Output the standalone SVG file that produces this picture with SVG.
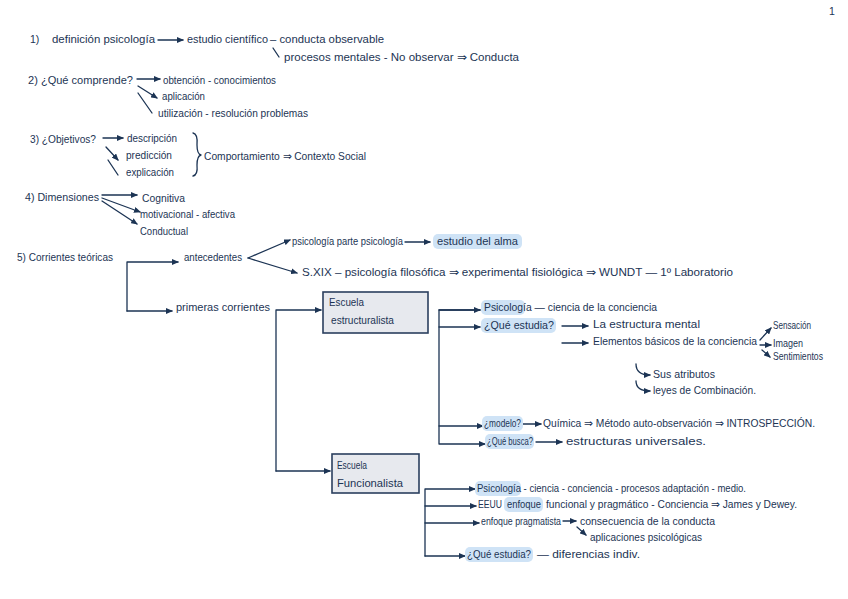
<svg xmlns="http://www.w3.org/2000/svg" width="848" height="599" viewBox="0 0 848 599">
<defs>
<style>
.t{font-family:"Liberation Sans",Arial,sans-serif;font-size:10.5px;fill:#1c3454}
.ln{stroke:#1c3454;stroke-width:1.3;fill:none;stroke-linecap:round;stroke-linejoin:round}
.hl{fill:#cfe3f6}
.box{fill:#e7e9ee;stroke:#2b3f5e;stroke-width:1.6}
</style>
<marker id="ah" markerWidth="7" markerHeight="6" refX="6" refY="3" orient="auto" markerUnits="userSpaceOnUse"><path d="M0,0 L7,3 L0,6 Z" fill="#1c3454"/></marker>
</defs>
<rect width="848" height="599" fill="#ffffff"/>
<text class="t" x="829" y="15">1</text>

<g id="connectors">
<path class="ln" d="M158,40 H183" marker-end="url(#ah)"/>
<path class="ln" d="M273,48 L279,57"/>
<path class="ln" d="M137,79 H160" marker-end="url(#ah)"/>
<path class="ln" d="M138,86 L157,98" marker-end="url(#ah)"/>
<path class="ln" d="M138,93 L152,113"/>
<path class="ln" d="M103,138 H123" marker-end="url(#ah)"/>
<path class="ln" d="M106,147 L118,160" marker-end="url(#ah)"/>
<path class="ln" d="M108,160 L118,175"/>
<path class="ln" d="M193,133 Q198,134 197,145 Q197,154 201,155 Q197,156 197,165 Q198,175 193,176"/>
<path class="ln" d="M102,195 H137" marker-end="url(#ah)"/>
<path class="ln" d="M102,198 L140,212" marker-end="url(#ah)"/>
<path class="ln" d="M102,201 L137,224" marker-end="url(#ah)"/>
<path class="ln" d="M127,311 V262 H178" marker-end="url(#ah)"/>
<path class="ln" d="M127,311 H172" marker-end="url(#ah)"/>
<path class="ln" d="M248,258 L290,240" marker-end="url(#ah)"/>
<path class="ln" d="M248,258 L297,273" marker-end="url(#ah)"/>
<path class="ln" d="M405,242 H430" marker-end="url(#ah)"/>
<path class="ln" d="M276,471 V310 H321" marker-end="url(#ah)"/>
<path class="ln" d="M276,471 H330" marker-end="url(#ah)"/>
<path class="ln" d="M480,310 H439 V444 H485" marker-end="url(#ah)"/>
<path class="ln" d="M439,310 H480" marker-end="url(#ah)"/>
<path class="ln" d="M439,327 H480" marker-end="url(#ah)"/>
<path class="ln" d="M439,426 H483" marker-end="url(#ah)"/>
<path class="ln" d="M562,326 H588" marker-end="url(#ah)"/>
<path class="ln" d="M562,343 H588" marker-end="url(#ah)"/>
<path class="ln" d="M760,340 L771,328" marker-end="url(#ah)"/>
<path class="ln" d="M760,345 H771" marker-end="url(#ah)"/>
<path class="ln" d="M762,350 L770,357" marker-end="url(#ah)"/>
<path class="ln" d="M636,364 Q636,375 650,375" marker-end="url(#ah)"/>
<path class="ln" d="M636,381 Q636,391 650,391" marker-end="url(#ah)"/>
<path class="ln" d="M523,424 H541" marker-end="url(#ah)"/>
<path class="ln" d="M536,442 H562" marker-end="url(#ah)"/>
<path class="ln" d="M425,556 V489 H475" marker-end="url(#ah)"/>
<path class="ln" d="M425,506 H476" marker-end="url(#ah)"/>
<path class="ln" d="M425,523 H479" marker-end="url(#ah)"/>
<path class="ln" d="M425,556 H465" marker-end="url(#ah)"/>
<path class="ln" d="M563,521 H576" marker-end="url(#ah)"/>
<path class="ln" d="M577,527 L586,535" marker-end="url(#ah)"/>
</g>

<g id="n1">
<text class="t" x="30" y="43">1)</text>
<text class="t" x="52" y="43" textLength="103" lengthAdjust="spacingAndGlyphs">definición psicología</text>
<text class="t" x="187" y="43" textLength="81" lengthAdjust="spacingAndGlyphs">estudio científico</text>
<text class="t" x="270" y="43" textLength="114" lengthAdjust="spacingAndGlyphs">– conducta observable</text>
<text class="t" x="284" y="61" textLength="235" lengthAdjust="spacingAndGlyphs">procesos mentales  -  No observar ⇒ Conducta</text>
</g>
<g id="n2">
<text class="t" x="28" y="84" textLength="105" lengthAdjust="spacingAndGlyphs">2) ¿Qué comprende?</text>
<text class="t" x="163" y="84" textLength="113" lengthAdjust="spacingAndGlyphs">obtención - conocimientos</text>
<text class="t" x="162" y="100" textLength="43" lengthAdjust="spacingAndGlyphs">aplicación</text>
<text class="t" x="158" y="117" textLength="150" lengthAdjust="spacingAndGlyphs">utilización - resolución problemas</text>
</g>
<g id="n3">
<text class="t" x="30" y="143" textLength="66" lengthAdjust="spacingAndGlyphs">3) ¿Objetivos?</text>
<text class="t" x="127" y="142" textLength="50" lengthAdjust="spacingAndGlyphs">descripción</text>
<text class="t" x="126" y="159" textLength="46" lengthAdjust="spacingAndGlyphs">predicción</text>
<text class="t" x="126" y="176" textLength="48" lengthAdjust="spacingAndGlyphs">explicación</text>
<text class="t" x="204" y="160" textLength="162" lengthAdjust="spacingAndGlyphs">Comportamiento ⇒ Contexto Social</text>
</g>
<g id="n4">
<text class="t" x="25" y="201" textLength="74" lengthAdjust="spacingAndGlyphs">4) Dimensiones</text>
<text class="t" x="142" y="202" textLength="43" lengthAdjust="spacingAndGlyphs">Cognitiva</text>
<text class="t" x="140" y="218" textLength="95" lengthAdjust="spacingAndGlyphs">motivacional - afectiva</text>
<text class="t" x="140" y="235" textLength="48" lengthAdjust="spacingAndGlyphs">Conductual</text>
</g>
<g id="n5">
<text class="t" x="17" y="261" textLength="96" lengthAdjust="spacingAndGlyphs">5) Corrientes teóricas</text>
<text class="t" x="184" y="261" textLength="58" lengthAdjust="spacingAndGlyphs">antecedentes</text>
<text class="t" x="176" y="311" textLength="94" lengthAdjust="spacingAndGlyphs">primeras corrientes</text>
<text class="t" x="292" y="245" textLength="111" lengthAdjust="spacingAndGlyphs">psicología parte psicología</text>
<rect class="hl" x="433" y="234" width="89" height="15" rx="5"/>
<text class="t" x="437" y="245" textLength="81" lengthAdjust="spacingAndGlyphs">estudio del alma</text>
<text class="t" x="302" y="276" textLength="431" lengthAdjust="spacingAndGlyphs">S.XIX – psicología filosófica ⇒ experimental fisiológica ⇒ WUNDT — 1º Laboratorio</text>
</g>
<g id="box-estructuralista">
<rect class="box" x="323" y="292" width="105" height="41"/>
<text class="t" x="329" y="306" textLength="35" lengthAdjust="spacingAndGlyphs">Escuela</text>
<text class="t" x="331" y="324" textLength="63" lengthAdjust="spacingAndGlyphs">estructuralista</text>
</g>
<g id="estructuralista-items">
<rect class="hl" x="481" y="300" width="44" height="15" rx="5"/>
<text class="t" x="484" y="311" textLength="173" lengthAdjust="spacingAndGlyphs">Psicología — ciencia de la conciencia</text>
<rect class="hl" x="481" y="318" width="75" height="15" rx="5"/>
<text class="t" x="484" y="329" textLength="70" lengthAdjust="spacingAndGlyphs">¿Qué estudia?</text>
<text class="t" x="593" y="328" textLength="107" lengthAdjust="spacingAndGlyphs">La estructura mental</text>
<text class="t" x="593" y="345" textLength="164" lengthAdjust="spacingAndGlyphs">Elementos básicos de la conciencia</text>
<text class="t" x="773" y="329" textLength="38" lengthAdjust="spacingAndGlyphs">Sensación</text>
<text class="t" x="773" y="347" textLength="30" lengthAdjust="spacingAndGlyphs">Imagen</text>
<text class="t" x="773" y="360" textLength="50" lengthAdjust="spacingAndGlyphs">Sentimientos</text>
<text class="t" x="653" y="378" textLength="62" lengthAdjust="spacingAndGlyphs">Sus atributos</text>
<text class="t" x="653" y="394" textLength="103" lengthAdjust="spacingAndGlyphs">leyes de Combinación.</text>
<rect class="hl" x="482" y="416" width="41" height="15" rx="5"/>
<text class="t" x="484" y="427" textLength="37" lengthAdjust="spacingAndGlyphs">¿modelo?</text>
<text class="t" x="543" y="427" textLength="272" lengthAdjust="spacingAndGlyphs">Química ⇒ Método auto-observación ⇒ INTROSPECCIÓN.</text>
<rect class="hl" x="485" y="434" width="49" height="15" rx="5"/>
<text class="t" x="487" y="445" textLength="46" lengthAdjust="spacingAndGlyphs">¿Qué busca?</text>
<text class="t" x="566" y="445" textLength="140" lengthAdjust="spacingAndGlyphs">estructuras universales.</text>
</g>
<g id="box-funcionalista">
<rect class="box" x="332" y="454" width="87" height="39"/>
<text class="t" x="337" y="469" textLength="30" lengthAdjust="spacingAndGlyphs">Escuela</text>
<text class="t" x="337" y="487" textLength="66" lengthAdjust="spacingAndGlyphs">Funcionalista</text>
</g>
<g id="funcionalista-items">
<rect class="hl" x="475" y="481" width="46" height="15" rx="5"/>
<text class="t" x="477" y="492" textLength="269" lengthAdjust="spacingAndGlyphs">Psicología - ciencia - conciencia - procesos adaptación - medio.</text>
<text class="t" x="478" y="508" textLength="24" lengthAdjust="spacingAndGlyphs">EEUU</text>
<rect class="hl" x="504" y="497" width="39" height="15" rx="5"/>
<text class="t" x="507" y="508" textLength="34" lengthAdjust="spacingAndGlyphs">enfoque</text>
<text class="t" x="546" y="508" textLength="251" lengthAdjust="spacingAndGlyphs">funcional y pragmático - Conciencia ⇒ James y Dewey.</text>
<text class="t" x="481" y="525" textLength="80" lengthAdjust="spacingAndGlyphs">enfoque pragmatista</text>
<text class="t" x="580" y="525" textLength="135" lengthAdjust="spacingAndGlyphs">consecuencia de la conducta</text>
<text class="t" x="590" y="541" textLength="112" lengthAdjust="spacingAndGlyphs">aplicaciones psicológicas</text>
<rect class="hl" x="465" y="547" width="68" height="15" rx="5"/>
<text class="t" x="467" y="558" textLength="64" lengthAdjust="spacingAndGlyphs">¿Qué estudia?</text>
<text class="t" x="537" y="558" textLength="103" lengthAdjust="spacingAndGlyphs">— diferencias indiv.</text>
</g>
</svg>
